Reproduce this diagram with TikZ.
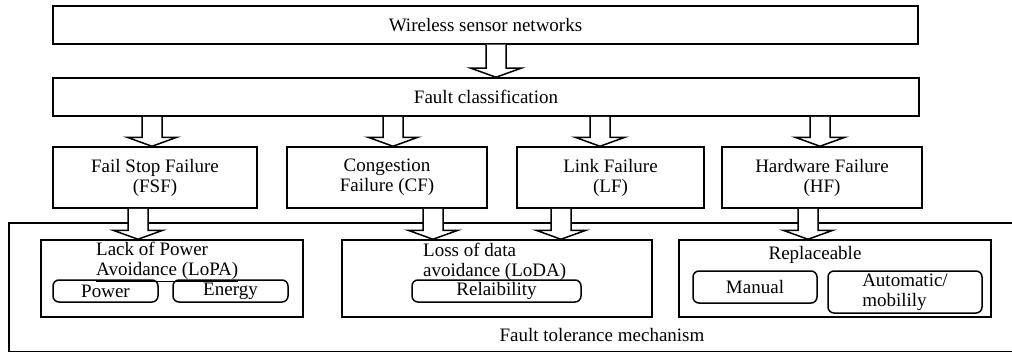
\documentclass[tikz,border=0pt]{standalone}
\usepackage{fontspec}
\setmainfont{Liberation Serif}
\usetikzlibrary{calc}
\tikzset{
  x=1pt, y=-1pt,
  lw/.style={line width=1.5pt},
  box/.style={draw, lw, inner sep=0pt, align=center, font=\fontsize{19}{20}\selectfont},
  rbox/.style={box, rounded corners=6pt},
  txt/.style={inner sep=0pt, align=left, font=\fontsize{19}{20}\selectfont},
  blockarrow/.style={draw, fill=white, lw, line join=miter},
}
\newcommand\blockarr[3]{%
  \draw[blockarrow] let \p1=(#2.south), \p2=(#3.north) in
    (#1pt-10pt,\y1) -- (#1pt-10pt,\y2+9pt) -- (#1pt-25pt,\y2+9pt) -- (#1pt,\y2)
    -- (#1pt+25pt,\y2+9pt) -- (#1pt+10pt,\y2+9pt) -- (#1pt+10pt,\y1);}
\begin{document}
\begin{tikzpicture}
\useasboundingbox (0,0) rectangle (1012,353);
% top levels
\node[box, minimum width=865pt, minimum height=38pt] (wsn) at (485.5,25) {Wireless sensor networks};
\node[box, minimum width=866pt, minimum height=38pt] (fc) at (486,97) {Fault classification};
% failures
\node[box, minimum width=204pt, minimum height=61pt] (fsf) at (155,177.5) {Fail Stop Failure\\(FSF)};
\node[box, minimum width=200pt, minimum height=61pt] (cf) at (387,177.5) {Congestion\\Failure (CF)};
\node[box, minimum width=187pt, minimum height=61pt] (lf) at (610.5,177.5) {Link Failure\\(LF)};
\node[box, minimum width=200pt, minimum height=61pt] (hf) at (822,177.5) {Hardware Failure\\(HF)};
% fault tolerance frame
\node[box, minimum width=1021pt, minimum height=128.5pt] (ftm) at (519.5,287.25) {};
\node[txt] (ftmtxt) at (602,335) {Fault tolerance mechanism};
% mechanisms
\node[box, minimum width=262pt, minimum height=77pt] (lopa) at (172,278.5) {};
\node[txt, anchor=west] (lopatxt) at (96,262) {Lack of Power\\\underline{Avoidance (LoPA)}};
\node[rbox, minimum width=105pt, minimum height=22pt] (power) at (105.5,291) {Power};
\node[rbox, minimum width=115pt, minimum height=22pt] (energy) at (230.5,291) {\raisebox{2pt}{Energy}};
\node[box, minimum width=310pt, minimum height=77pt] (loda) at (497,278.5) {};
\node[txt, anchor=west] (lodatxt) at (423,262) {Loss of data\\avoidance (LoDA)};
\node[rbox, minimum width=169pt, minimum height=22pt] (relia) at (496.5,291) {Relaibility};
\node[box, minimum width=312pt, minimum height=77pt] (repl) at (835,278.5) {};
\node[txt] (repltxt) at (815,255) {Replaceable};
\node[rbox, minimum width=124pt, minimum height=32pt] (manual) at (755,287) {Manual};
\node[rbox, minimum width=154pt, minimum height=42pt, align=left] (auto) at (905,292) {Automatic/\\mobilily};
% arrows
\blockarr{496}{wsn}{fc}
\blockarr{152}{fc}{fsf}
\blockarr{393}{fc}{cf}
\blockarr{600}{fc}{lf}
\blockarr{820}{fc}{hf}
\blockarr{138}{fsf}{lopa}
\blockarr{433}{cf}{loda}
\blockarr{561}{lf}{loda}
\blockarr{808}{hf}{repl}
\end{tikzpicture}
\end{document}
